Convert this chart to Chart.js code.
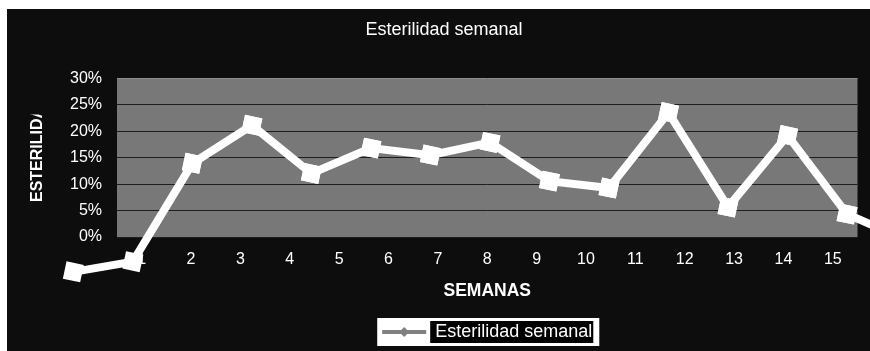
<!DOCTYPE html>
<html>
<head>
<meta charset="utf-8">
<script src="https://cdn.jsdelivr.net/npm/chart.js@4.4.0/dist/chart.umd.min.js"></script>
<style>
  html, body { margin: 0; padding: 0; background: #fff; }
  #frame { position: absolute; left: 7px; top: 9px; width: 863px; height: 342px; background: #0d0d0d; }
</style>
</head>
<body>
<div id="frame"><canvas id="chart" width="863" height="342"></canvas></div>
<script>
// data
const weeks = ['1', '2', '3', '4', '5', '6', '7', '8', '9', '10', '11', '12', '13', '14', '15'];
const weekNumbers = [1, 2, 3, 4, 5, 6, 7, 8, 9, 10, 11, 12, 13, 14, 15];
const sterility = [0, 1.6, 17.1, 23.1, 15.5, 19.5, 18.4, 20.4, 14.3, 13.2, 25.1, 10.2, 21.5, 9.1, 5.0];
const yTicks = [0, 5, 10, 15, 20, 25, 30];

const chartTitle = 'Esterilidad semanal';
const xTitle = 'SEMANAS';
const yTitle = 'ESTERILIDAD';

// the line sits on the 3D "front plane", which is larger than the back wall
const frontX = { min: 1.7335, max: 14.1755 };
const frontY = { min: 5.49, max: 30.46 };

Chart.defaults.font.family = '"Liberation Sans", Arial, sans-serif';

const plotBg = {
  id: 'plotBg',
  beforeDraw(chart) {
    const { ctx, chartArea: a } = chart;
    ctx.save();
    ctx.fillStyle = '#787878';
    ctx.fillRect(a.left, a.top, a.right - a.left, a.bottom - a.top);
    ctx.restore();
  }
};

// markers that fall outside the back wall still have to show
const allPoints = {
  id: 'allPoints',
  afterDatasetsDraw(chart) {
    const big = { left: -1e4, top: -1e4, right: 1e4, bottom: 1e4 };
    chart.getDatasetMeta(0).data.forEach(p => p.draw(chart.ctx, big));
  }
};

const legendBox = {
  id: 'legendBox',
  beforeDraw(chart) {
    const hit = chart.legend.legendHitBoxes[0];
    if (!hit) return;
    const ctx = chart.ctx;
    const cy = hit.top + hit.height / 2;
    ctx.save();
    ctx.fillStyle = '#fff';
    ctx.fillRect(hit.left - 5, cy - 14, hit.width + 12, 28);
    ctx.fillStyle = '#000';
    ctx.fillRect(hit.left + 48, cy - 11, hit.width - 47, 22);
    ctx.restore();
  },
  afterDraw(chart) {
    const hit = chart.legend.legendHitBoxes[0];
    if (!hit) return;
    const ctx = chart.ctx;
    const cx = hit.left + 22, cy = hit.top + hit.height / 2;
    ctx.save();
    ctx.fillStyle = '#808080';
    ctx.beginPath();
    ctx.moveTo(cx, cy - 5);
    ctx.lineTo(cx + 5, cy);
    ctx.lineTo(cx, cy + 5);
    ctx.lineTo(cx - 5, cy);
    ctx.closePath();
    ctx.fill();
    ctx.restore();
  }
};

// y title is cut off in the original
const yAxisTitle = {
  id: 'yAxisTitle',
  afterDraw(chart) {
    const { ctx, chartArea: a } = chart;
    ctx.save();
    ctx.beginPath();
    ctx.rect(0, a.top + 36, a.left, a.bottom - a.top);
    ctx.clip();
    ctx.translate(31, a.bottom - 35);
    ctx.rotate(-Math.PI / 2);
    ctx.font = 'bold 16px "Liberation Sans", Arial, sans-serif';
    ctx.fillStyle = '#fff';
    ctx.textAlign = 'left';
    ctx.textBaseline = 'middle';
    ctx.fillText(yTitle, 0, 0);
    ctx.restore();
  }
};

new Chart(document.getElementById('chart'), {
  type: 'line',
  data: {
    labels: weeks,
    datasets: [{
      label: chartTitle,
      data: weekNumbers.map((w, i) => ({ x: w, y: sterility[i] })),
      xAxisID: 'xf',
      yAxisID: 'yf',
      borderColor: '#ffffff',
      backgroundColor: '#ffffff',
      borderWidth: 8,
      pointStyle: 'rect',
      pointRadius: 12.5,
      pointRotation: 12,
      pointBorderWidth: 0,
      tension: 0,
      clip: false
    }]
  },
  options: {
    responsive: false,
    animation: false,
    devicePixelRatio: 1,
    events: [],
    layout: { padding: { left: 16, right: 5, top: 0, bottom: 0 } },
    scales: {
      x: {
        type: 'category',
        position: 'bottom',
        offset: true,
        grid: { display: false },
        border: { display: false },
        ticks: { color: '#fff', font: { size: 16 }, padding: 5, maxRotation: 0, autoSkip: false },
        title: { display: true, text: xTitle, color: '#fff', font: { size: 17.5, weight: 'bold' }, padding: { top: 0, bottom: 17 } },
        afterFit: s => { s.height = 82; }
      },
      y: {
        type: 'linear',
        position: 'left',
        min: 0,
        max: 30,
        afterBuildTicks: s => { s.ticks = yTicks.map(v => ({ value: v })); },
        ticks: { color: '#fff', font: { size: 16 }, padding: 15, callback: v => v + '%' },
        grid: {
          drawTicks: false,
          lineWidth: 1,
          color: c => (c.tick && c.tick.value === 30 ? '#8c8c8c' : '#1e1e1e')
        },
        border: { display: false },
        afterFit: s => { s.width = 94; }
      },
      xf: { type: 'linear', display: false, position: 'bottom', min: frontX.min, max: frontX.max },
      yf: { type: 'linear', display: false, position: 'left', min: frontY.min, max: frontY.max }
    },
    plugins: {
      title: {
        display: true,
        text: chartTitle,
        color: '#fff',
        font: { size: 18, weight: 'normal' },
        padding: { top: 10, bottom: 38 }
      },
      legend: {
        display: true,
        position: 'bottom',
        fullSize: false,
        labels: {
          color: '#fff',
          font: { size: 18 },
          boxWidth: 44,
          boxHeight: 4,
          padding: 4,
          generateLabels: chart => [{
            text: chart.data.datasets[0].label,
            fillStyle: '#808080',
            strokeStyle: '#808080',
            fontColor: '#ffffff',
            lineWidth: 0,
            hidden: false,
            datasetIndex: 0
          }]
        }
      },
      tooltip: { enabled: false }
    }
  },
  plugins: [plotBg, allPoints, legendBox, yAxisTitle]
});
</script>
</body>
</html>
